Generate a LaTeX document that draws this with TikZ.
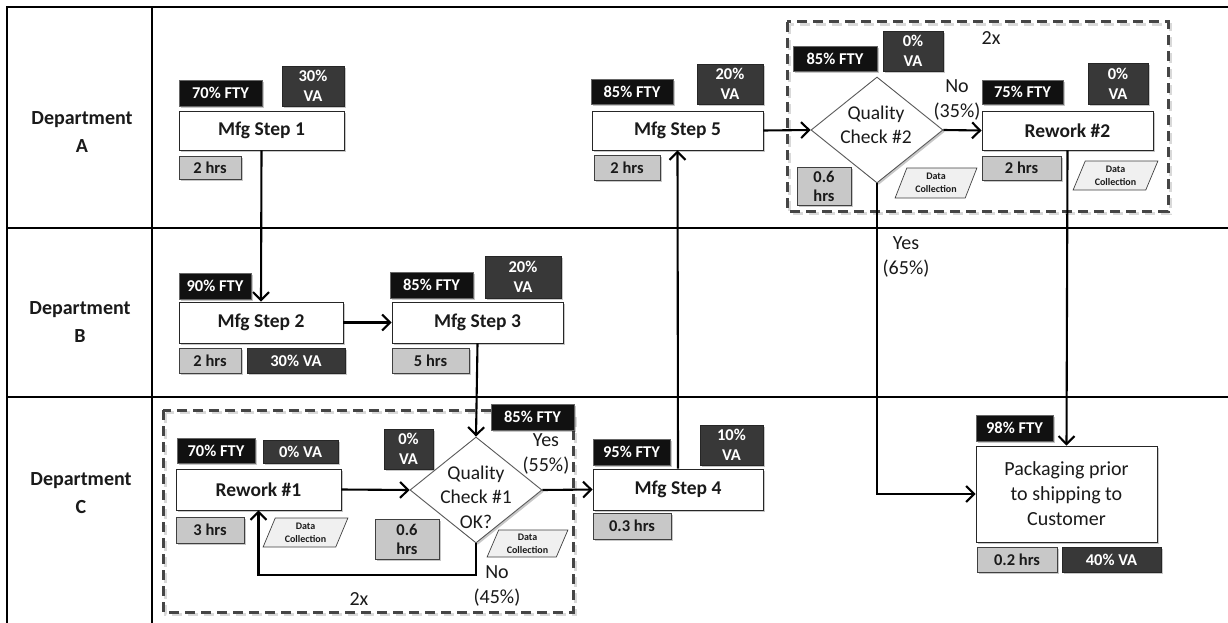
\documentclass[tikz,border=0pt]{standalone}
\usepackage{fontspec}
\setmainfont{Carlito}
\usetikzlibrary{shapes.geometric,shadows,arrows.meta}
\newcommand\fsz[2]{\fontsize{#1}{#2}\selectfont}
\definecolor{ftyc}{HTML}{111111}
\definecolor{vac}{HTML}{383838}
\definecolor{hrsc}{HTML}{C8C8C8}
\definecolor{dcc}{HTML}{F0F0F0}
\definecolor{txt}{HTML}{1A1A1A}
\definecolor{grpc}{HTML}{454545}
\begin{document}
\begin{tikzpicture}[x=1pt,y=-1pt,
  bx/.style={rectangle, inner sep=0pt, align=center, line width=0.9pt,
    drop shadow={shadow xshift=1.8pt, shadow yshift=-1.8pt, fill=black, opacity=0.22}},
  sz/.style 2 args={minimum width=#1pt, minimum height=#2pt},
  fty/.style={bx, fill=ftyc, draw=black!60, text=white, font=\bfseries\fsz{16.5}{20}},
  va/.style={bx, fill=vac, draw=black!85, text=white, font=\bfseries\fsz{16.5}{20}},
  hrs/.style={bx, fill=hrsc, draw=black!75, text=txt, font=\bfseries\fsz{16.5}{19}},
  proc/.style={bx, fill=white, draw=black!85, text=txt, font=\bfseries\fsz{19.5}{25}},
  pack/.style={bx, fill=white, draw=black!85, text=txt, font=\fsz{20}{25}},
  dec/.style={diamond, aspect=1.245, inner sep=0pt, minimum width=132pt, minimum height=106pt,
    fill=white, draw=black!65, line width=0.9pt,
    drop shadow={shadow xshift=1.8pt, shadow yshift=-1.8pt, fill=black, opacity=0.22}},
  dectext/.style={align=center, text=txt, font=\fsz{19.5}{24.5}, inner sep=0pt},
  dc/.style={trapezium, trapezium left angle=67, trapezium right angle=113, trapezium stretches=true,
    fill=dcc, draw=black!75, line width=0.7pt, inner sep=0pt, align=center, text=txt,
    font=\bfseries\fsz{10}{13}},
  lbl/.style={align=center, text=txt, font=\fsz{20}{25}, inner sep=0pt},
  dept/.style={align=center, text=txt, font=\bfseries\fsz{20}{28.5}, inner sep=0pt},
  flow/.style={line width=2.1pt, draw=black, -{Straight Barb[length=8pt,width=16pt]}},
  lane/.style={line width=2.8pt, draw=black},
  grp/.style={draw=grpc, line width=3pt, dash pattern=on 10pt off 6pt},
  grpsh/.style={draw=black!15, line width=3.4pt, dash pattern=on 10pt off 6pt}
]
\useasboundingbox (0,0) rectangle (1228,623);
\fill[white] (0,0) rectangle (1228,623);

% swimlanes
\draw[lane] (1228,7) -- (7,7) -- (7,623);
\draw[lane] (152,7) -- (152,623);
\draw[lane] (7,228) -- (1228,228);
\draw[lane] (7,397) -- (1228,397);

\node[dept] (dA) at (82,132) {Department\\A};
\node[dept] (dB) at (80,322) {Department\\B};
\node[dept] (dC) at (81,493) {Department\\C};

% dashed groups
\draw[grpsh] (789.5,24.5) rectangle (1170.5,213.5);
\draw[grp] (787,22) rectangle (1168,211);
\draw[grpsh] (165.5,412.5) rectangle (575.5,614.5);
\draw[grp] (163,410) rectangle (573,612);

% Lane A
\node[fty, sz={83}{26}] (f1) at (220.5,93) {70\% FTY};
\node[va, sz={62}{40}] (v1) at (313,86) {30\%\\VA};
\node[proc, sz={165}{39}] (s1) at (261.5,130.5) {Mfg Step 1};
\node[hrs, sz={62}{23}] (h1) at (210,167.5) {2 hrs};

\node[fty, sz={82}{25}] (f5) at (632,91.5) {85\% FTY};
\node[va, sz={66}{40}] (v5) at (730,84) {20\%\\VA};
\node[proc, sz={171}{39}] (s5) at (677.5,130.5) {Mfg Step 5};
\node[hrs, sz={66}{25}] (h5) at (627,167.5) {2 hrs};

\node[fty, sz={84}{25}] (fq2) at (835,58.5) {85\% FTY};
\node[va, sz={60}{40}] (vq2) at (913,51) {0\%\\VA};
\node[dec] (q2) at (877,130) {};
\node[dectext] (q2t) at (876,125) {Quality\\Check \#2};
\node[hrs, sz={54}{38}] (hq2) at (824,186) {0.6\\hrs};
\node[dc, sz={82}{30}] (dq2) at (936,183) {Data\\Collection};
\node[lbl] (lno2) at (957,100) {No\\(35\%)};
\node[lbl] (l2x2) at (991,38) {2x};

\node[fty, sz={81}{24}] (fr2) at (1022.5,92) {75\% FTY};
\node[va, sz={60}{41}] (vr2) at (1118,83.5) {0\%\\VA};
\node[proc, sz={171}{39}] (r2) at (1067.5,130.5) {Rework \#2};
\node[hrs, sz={79}{24}] (hr2) at (1021.5,168) {2 hrs};
\node[dc, sz={85}{29}] (dr2) at (1115.5,175.5) {Data\\Collection};

\node[lbl] (lyes2) at (906,257) {Yes\\(65\%)};

% Lane B
\node[fty, sz={72}{26}] (f2) at (215,286) {90\% FTY};
\node[proc, sz={164}{41}] (s2) at (261,322.5) {Mfg Step 2};
\node[hrs, sz={62}{25}] (h2) at (210,360.5) {2 hrs};
\node[va, sz={98}{25}] (v2) at (296,360.5) {30\% VA};

\node[fty, sz={83}{26}] (f3) at (431.5,285) {85\% FTY};
\node[va, sz={76}{42}] (v3) at (523,277) {20\%\\VA};
\node[proc, sz={171}{41}] (s3) at (477.5,322.5) {Mfg Step 3};
\node[hrs, sz={77}{25}] (h3) at (430.5,360.5) {5 hrs};

% Lane C
\node[fty, sz={78}{25}] (fr1) at (216,450.5) {70\% FTY};
\node[va, sz={75}{23}] (vr1) at (300.5,452) {0\% VA};
\node[proc, sz={165}{41}] (r1) at (258.5,489.5) {Rework \#1};
\node[hrs, sz={68}{26}] (hr1) at (210,530) {3 hrs};
\node[dc, sz={85}{29}] (dr1) at (305.5,532.5) {Data\\Collection};

\node[va, sz={49}{40}] (vq1) at (408.5,449) {0\%\\VA};
\node[dec] (q1) at (476,490) {};
\node[dectext] (q1t) at (476,497) {Quality\\Check \#1\\OK?};
\node[hrs, sz={64}{40}] (hq1) at (407,539) {0.6\\hrs};
\node[fty, sz={83}{26}] (fq1) at (532.5,417) {85\% FTY};
\node[dc, sz={81}{27}] (dq1) at (527.5,543.5) {Data\\Collection};
\node[lbl] (lyes1) at (546,454) {Yes\\(55\%)};
\node[lbl] (lno1) at (497,585.5) {No\\(45\%)};
\node[lbl] (l2x1) at (359,599) {2x};

\node[fty, sz={77}{26}] (f4) at (631.5,452) {95\% FTY};
\node[va, sz={63}{40}] (v4) at (731.5,445) {10\%\\VA};
\node[proc, sz={170}{41}] (s4) at (678,489.5) {Mfg Step 4};
\node[hrs, sz={78}{26}] (h4) at (632,526) {0.3 hrs};

\node[fty, sz={77}{26}] (fp) at (1014.5,428) {98\% FTY};
\node[pack, sz={181}{96}] (pk) at (1066.5,494) {Packaging prior\\to shipping to\\Customer};
\node[hrs, sz={80}{25}] (hp) at (1017,559.5) {0.2 hrs};
\node[va, sz={99}{25}] (vp) at (1111.5,559.5) {40\% VA};

% connectors
\coordinate (lp) at (0,575);
\draw[flow] (s1.south) -- (s2.north);
\draw[flow] (s2.east) -- (s3.west);
\draw[flow] (s3.south) -- (q1.north);
\draw[flow] (r1.east) -- (q1.west);
\draw[flow] (q1.east) -- (s4.west);
\draw[flow] (q1.south) -- (q1.south |- lp) -| (r1.south);
\draw[flow] (s4.north) -- (s5.south);
\draw[flow] (s5.east) -- (q2.west);
\draw[flow] (q2.east) -- (r2.west);
\draw[flow] (q2.south) |- (pk.west);
\draw[flow] (r2.south) -- (pk.north);
\end{tikzpicture}
\end{document}
